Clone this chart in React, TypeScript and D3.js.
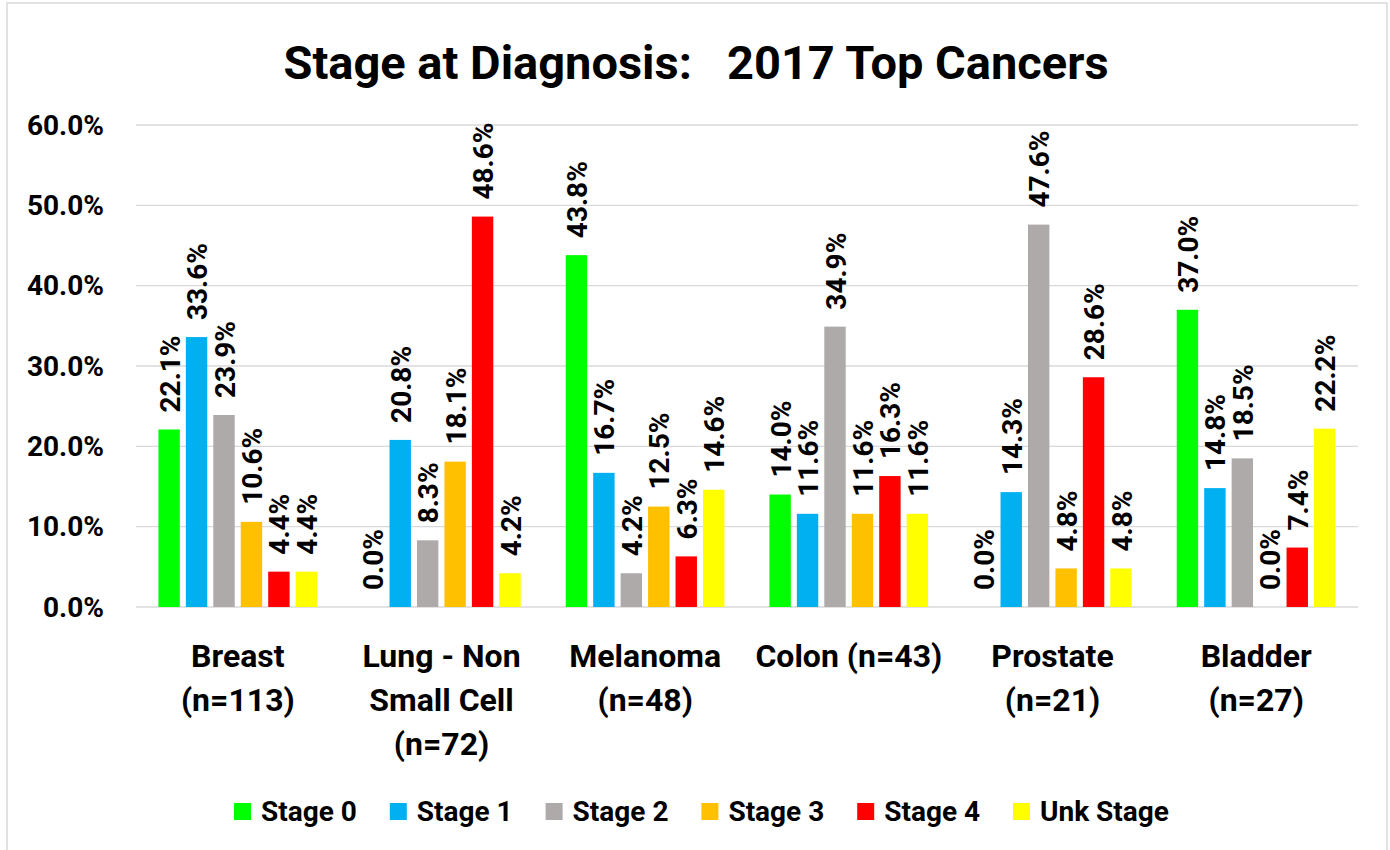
import React from "react";
import * as d3 from "d3";

// chart data (percent)
const categoryLines = [
  ["Breast", "(n=113)"],
  ["Lung - Non", "Small Cell", "(n=72)"],
  ["Melanoma", "(n=48)"],
  ["Colon (n=43)"],
  ["Prostate", "(n=21)"],
  ["Bladder", "(n=27)"],
];
const categories = categoryLines.map((l) => l.join(" "));

const stageNames = ["Stage 0", "Stage 1", "Stage 2", "Stage 3", "Stage 4", "Unk Stage"];
const stageColors = ["#00FF00", "#00B0F0", "#AEAAAA", "#FFC000", "#FF0000", "#FFFF00"];

const stage0 = [22.1, 0.0, 43.8, 14.0, 0.0, 37.0];
const stage1 = [33.6, 20.8, 16.7, 11.6, 14.3, 14.8];
const stage2 = [23.9, 8.3, 4.2, 34.9, 47.6, 18.5];
const stage3 = [10.6, 18.1, 12.5, 11.6, 4.8, 0.0];
const stage4 = [4.4, 48.6, 6.3, 16.3, 28.6, 7.4];
const unkStage = [4.4, 4.2, 14.6, 11.6, 4.8, 22.2];
const series = [stage0, stage1, stage2, stage3, stage4, unkStage];

const yTicks = [0, 0.1, 0.2, 0.3, 0.4, 0.5, 0.6];

const W = 1390;
const H = 850;
const FONT = "Roboto, 'Open Sans', Arial, sans-serif";

export default function App() {
  const plotLeft = 136;
  const plotRight = 1358;
  const plotTop = 125;
  const plotBottom = 607;

  const x0 = d3.scaleBand<string>().domain(categories).range([plotLeft, plotRight]).padding(0);
  const gw = x0.bandwidth();
  const x1 = d3
    .scaleBand<string>()
    .domain(stageNames)
    .range([gw * 0.11, gw * 0.889])
    .paddingInner(0.22)
    .paddingOuter(0);
  const y = d3.scaleLinear().domain([0, 0.6]).range([plotBottom, plotTop]);
  const fmt = d3.format(".1%");

  const legendX = d3.scalePoint<string>().domain(stageNames).range([234, 1013]);

  return (
    <svg
      width={W}
      height={H}
      style={{ position: "absolute", left: 0, top: 0, background: "#fff" }}
      fontFamily={FONT}
      fontWeight="bold"
    >
      <rect x={7} y={3} width={1380} height={870} fill="#fff" stroke="#D9D9D9" strokeWidth={1.5} />

      <text x={696} y={79} textAnchor="middle" fontSize={47} style={{ whiteSpace: "pre" }}>
        {"Stage at Diagnosis:   2017 Top Cancers"}
      </text>

      {/* gridlines + y axis labels */}
      {yTicks.map((t) => (
        <g key={t}>
          <line x1={plotLeft} x2={plotRight} y1={y(t)} y2={y(t)} stroke="#D9D9D9" strokeWidth={1.4} />
          <text x={104} y={y(t)} textAnchor="end" dominantBaseline="central" fontSize={28}>
            {fmt(t)}
          </text>
        </g>
      ))}

      {/* bars */}
      {categories.map((c, ci) => (
        <g key={c} transform={`translate(${x0(c)},0)`}>
          {stageNames.map((s, si) => {
            const v = series[si][ci] / 100;
            const bx = x1(s)!;
            const cx = bx + x1.bandwidth() / 2;
            const ly = y(v) - 17;
            return (
              <g key={s}>
                <rect x={bx} y={y(v)} width={x1.bandwidth()} height={y(0) - y(v)} fill={stageColors[si]} />
                <text
                  transform={`translate(${cx + 1},${ly}) rotate(-90)`}
                  dominantBaseline="central"
                  fontSize={28}
                >
                  {fmt(v)}
                </text>
              </g>
            );
          })}
        </g>
      ))}

      {/* category labels */}
      {categories.map((c, ci) => (
        <text key={c} x={x0(c)! + gw / 2} y={667} textAnchor="middle" fontSize={32}>
          {categoryLines[ci].map((line, li) => (
            <tspan key={li} x={x0(c)! + gw / 2} dy={li === 0 ? 0 : 44}>
              {line}
            </tspan>
          ))}
        </text>
      ))}

      {/* legend */}
      {stageNames.map((s, si) => (
        <g key={s} transform={`translate(${legendX(s)},803)`}>
          <rect width={17} height={17} fill={stageColors[si]} />
          <text x={27} y={8.5} dominantBaseline="central" fontSize={28}>
            {s}
          </text>
        </g>
      ))}
    </svg>
  );
}
